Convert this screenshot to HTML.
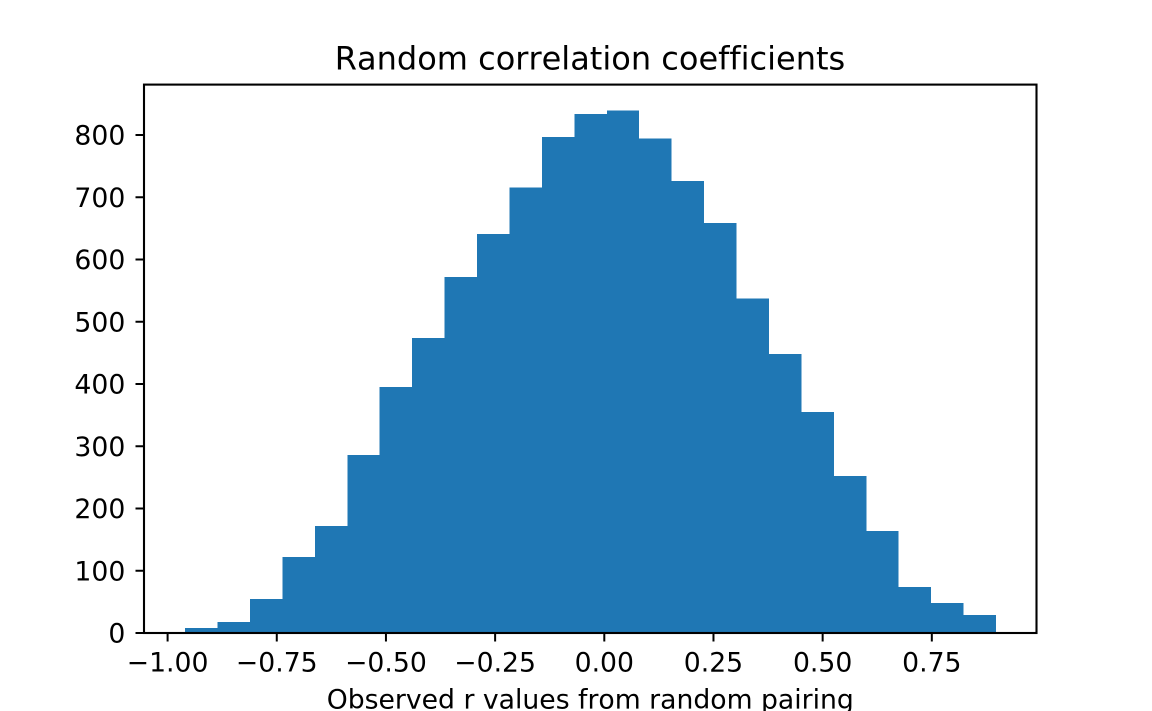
<!DOCTYPE html>
<html lang="en">
<head>
<meta charset="utf-8">
<title>Random correlation coefficients</title>
<style>
  html, body { margin: 0; padding: 0; background: #fff; width: 1152px; height: 711px; overflow: hidden; }
  svg { display: block; }
  text { font-family: "DejaVu Sans", "Liberation Sans", sans-serif; fill: #000; font-variant-ligatures: none; font-kerning: none; }
</style>
</head>
<body>
<svg id="chart" xmlns="http://www.w3.org/2000/svg" width="1152" height="711" viewBox="0 0 1152 711">
  <rect x="0" y="0" width="1152" height="711" fill="#ffffff"/>
  <g id="bars"></g>
  <g id="x-ticks"></g>
  <g id="y-ticks"></g>
  <rect x="144" y="84.6" width="892.5" height="548.4" fill="none" stroke="#000" stroke-width="2.1"/>
  <text x="590" y="69.4" font-size="32" text-anchor="middle">Random correlation coefficients</text>
  <text x="590.3" y="708.4" font-size="26.67" text-anchor="middle">Observed r values from random pairing</text>
</svg>
<script>
const binCounts = [8, 18, 55, 122, 172, 286, 395, 474, 572, 641, 716, 797, 834, 839, 794, 726, 659, 537, 448, 355, 252, 164, 74, 48, 29];
const binStart = -0.96;
const binEnd = 0.897;
const xTickValues = [-1, -0.75, -0.5, -0.25, 0, 0.25, 0.5, 0.75];
const xTickLabels = ['\u22121.00', '\u22120.75', '\u22120.50', '\u22120.25', '0.00', '0.25', '0.50', '0.75'];
const yTickValues = [0, 100, 200, 300, 400, 500, 600, 700, 800];
const yTickLabels = ['0', '100', '200', '300', '400', '500', '600', '700', '800'];

const NS = 'http://www.w3.org/2000/svg';
function xScale(v) { return 604.3 + v * 436.7; }
function yScale(v) { return 633 - v * 0.6225; }

const barsGroup = document.getElementById('bars');
const xTicksGroup = document.getElementById('x-ticks');
const yTicksGroup = document.getElementById('y-ticks');

const binWidth = (binEnd - binStart) / binCounts.length;
binCounts.forEach(function (count, i) {
  const x0 = xScale(binStart + i * binWidth);
  const x1 = xScale(binStart + (i + 1) * binWidth);
  const bar = document.createElementNS(NS, 'rect');
  
  
  bar.setAttribute('x', x0);
  bar.setAttribute('y', yScale(count));
  bar.setAttribute('width', x1 - x0);
  bar.setAttribute('height', yScale(0) - yScale(count));
  bar.setAttribute('fill', '#1f77b4');
  bar.setAttribute('shape-rendering', 'crispEdges');
  barsGroup.appendChild(bar);
});

xTickValues.forEach(function (v, i) {
  const x = xScale(v);
  const tick = document.createElementNS(NS, 'line');
  
  
  tick.setAttribute('x1', x);
  tick.setAttribute('x2', x);
  tick.setAttribute('y1', 633);
  tick.setAttribute('y2', 641.5);
  tick.setAttribute('stroke', '#000');
  tick.setAttribute('stroke-width', 2);
  xTicksGroup.appendChild(tick);
  const label = document.createElementNS(NS, 'text');
  
  
  label.setAttribute('x', x);
  label.setAttribute('y', 671.5);
  label.setAttribute('font-size', 26.67);
  label.setAttribute('text-anchor', 'middle');
  label.textContent = xTickLabels[i];
  xTicksGroup.appendChild(label);
});

yTickValues.forEach(function (v, i) {
  const y = yScale(v);
  const tick = document.createElementNS(NS, 'line');
  
  
  tick.setAttribute('x1', 135.5);
  tick.setAttribute('x2', 144);
  tick.setAttribute('y1', y);
  tick.setAttribute('y2', y);
  tick.setAttribute('stroke', '#000');
  tick.setAttribute('stroke-width', 2);
  yTicksGroup.appendChild(tick);
  const label = document.createElementNS(NS, 'text');
  
  
  label.setAttribute('x', 125.3);
  label.setAttribute('y', y + 9.7);
  label.setAttribute('font-size', 26.67);
  label.setAttribute('text-anchor', 'end');
  label.textContent = yTickLabels[i];
  yTicksGroup.appendChild(label);
});
</script>
</body>
</html>
